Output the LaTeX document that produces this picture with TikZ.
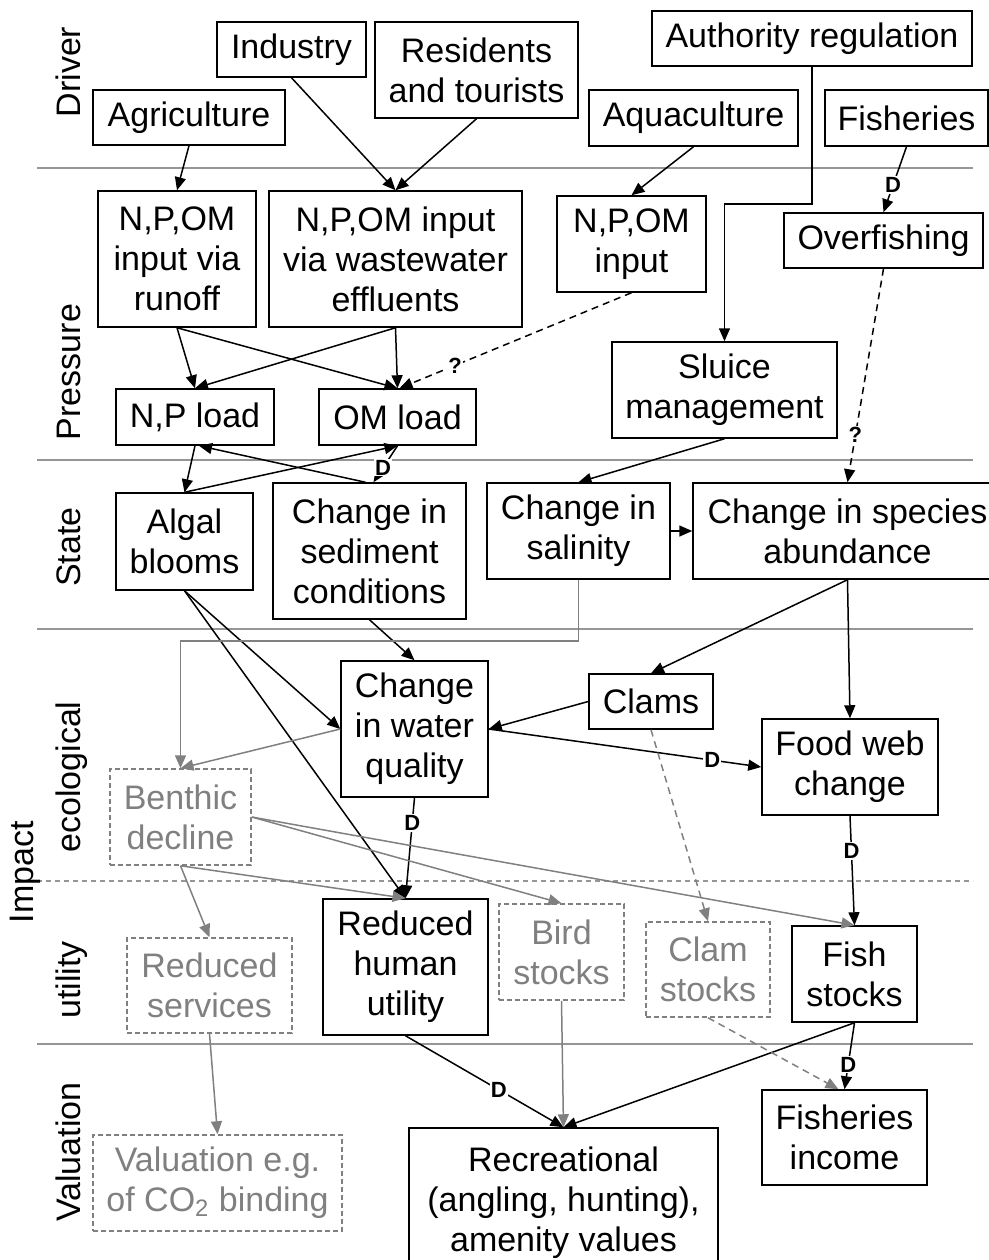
\documentclass[tikz,border=0pt]{standalone}
\usepackage{fontspec}
\setmainfont{Liberation Sans}
\usetikzlibrary{arrows.meta}
\definecolor{faded}{RGB}{128,128,128}
\definecolor{lanegray}{RGB}{150,150,150}

\begin{document}
\begin{tikzpicture}[x=0.5pt, y=-0.5pt,
    every node/.style={font=\fontsize{17}{20}\selectfont},
    wh/.style 2 args={minimum width=#1pt, minimum height=#2pt},
    box/.style={draw, line width=0.75pt, inner sep=0pt, align=center},
    ghost/.style={box, draw=faded, text=faded, dash pattern=on 2.5pt off 1.5pt},
    lane/.style={rotate=90, anchor=base, inner sep=0pt},
    sepline/.style={draw=lanegray, line width=0.7pt},
    arr/.style={line width=0.75pt, -{Triangle[length=6.5pt,width=5.5pt]}},
    fadedarr/.style={arr, draw=faded},
    dashline/.style={dash pattern=on 3.5pt off 2.5pt},
    dlab/.style={fill=white, inner sep=0.6pt, font=\bfseries\fontsize{11}{11}\selectfont}]
    \useasboundingbox (0,0) rectangle (989,1260);

    % lanes
    \foreach \y in {168,460,629,1044}
      \draw[sepline] (37,\y) -- (973,\y);
    \draw[sepline, dash pattern=on 2.5pt off 2pt] (37,881) -- (973,881);
    \node[lane] at (80,72) {Driver};
    \node[lane] at (80,372) {Pressure};
    \node[lane] at (80,547) {State};
    \node[lane] at (80,777) {ecological};
    \node[lane] at (33,872) {Impact};
    \node[lane] at (80,980) {utility};
    \node[lane] at (80,1152) {Valuation};

    % Driver
    \node[box, wh={74.5}{27.5}] (industry) at (291.5,49.5) {Industry};
    \node[box, wh={101.5}{48}] (residents) at (476.5,70) {Residents\\and tourists};
    \node[box, wh={96}{27.5}] (agri) at (189,117.5) {Agriculture};
    \node[box, wh={160}{27.5}] (authority) at (812,38.5) {Authority regulation};
    \node[box, wh={104.5}{28}] (aqua) at (693.5,118) {Aquaculture};
    \node[box, wh={81.5}{28}] (fisheries) at (906.5,118) {Fisheries};

    % Pressure
    \node[box, wh={79}{68}] (runoff) at (177,259) {N,P,OM\\input via\\runoff};
    \node[box, wh={126.5}{68}] (waste) at (395.5,259) {N,P,OM input\\via wastewater\\effluents};
    \node[box, wh={74.5}{48}] (npominput) at (631.5,244) {N,P,OM\\input};
    \node[box, wh={99.5}{27.5}] (overfish) at (883.5,240.5) {Overfishing};
    \node[box, wh={112.5}{48}] (sluice) at (724.5,390) {Sluice\\management};
    \node[box, wh={79}{28}] (npload) at (195,417) {N,P load};
    \node[box, wh={78.5}{28}] (omload) at (397.5,417) {OM load};

    % State
    \node[box, wh={68.5}{48.5}] (algal) at (184.5,541.5) {Algal\\blooms};
    \node[box, wh={96.5}{68}] (sediment) at (369.5,551) {Change in\\sediment\\conditions};
    \node[box, wh={91.5}{48}] (salinity) at (578.5,531) {Change in\\salinity};
    \node[box, wh={154.5}{48}] (species) at (847.5,531) {Change in species\\abundance};

    % Impact: ecological
    \node[box, wh={73.5}{68}] (water) at (414.5,729) {Change\\in water\\quality};
    \node[box, wh={62}{27.5}] (clams) at (651,701.5) {Clams};
    \node[box, wh={88}{48}] (foodweb) at (850,767) {Food web\\change};
    \node[ghost, wh={70.5}{48}] (benthic) at (180.5,817) {Benthic\\decline};

    % Impact: utility
    \node[ghost, wh={82.5}{47.5}] (services) at (209.5,985.5) {Reduced\\services};
    \node[box, wh={82.5}{68}] (human) at (405.5,967) {Reduced\\human\\utility};
    \node[ghost, wh={62.5}{48}] (bird) at (561.5,952) {Bird\\stocks};
    \node[ghost, wh={62}{47.5}] (clamst) at (708,969.5) {Clam\\stocks};
    \node[box, wh={62.5}{48}] (fish) at (854.5,974) {Fish\\stocks};

    % Valuation
    \node[ghost, wh={124.5}{48}] (valuation) at (217.5,1183) {Valuation e.g.\\of CO\textsubscript{2} binding};
    \node[box, wh={154.5}{75}] (recreat) at (563.5,1203) {Recreational\\(angling, hunting),\\amenity values};
    \node[box, wh={82.5}{47.5}] (fishinc) at (844.5,1137.5) {Fisheries\\income};

    % Driver -> Pressure
    \draw[arr] (agri.south) -- (runoff.north);
    \draw[arr] (industry.south) -- (waste.north);
    \draw[arr] (residents.south) -- (waste.north);
    \draw[arr] (aqua.south) -- (npominput.north);
    \draw[arr] (authority.south) -- ++(0,137) -| (sluice.north);
    \draw[arr] (fisheries.south) -- node[dlab, pos=0.58] {D} (overfish.north);

    % Pressure
    \draw[arr] (runoff.south) -- (npload.north);
    \draw[arr] (runoff.south) -- (omload.north);
    \draw[arr] (waste.south) -- (npload.north);
    \draw[arr] (waste.south) -- (omload.north);
    \draw[arr, dashline] (npominput.south) -- node[dlab, pos=0.76] {?} ([xshift=1pt]omload.north);

    % Pressure -> State
    \draw[arr] (npload.south) -- (algal.north);
    \draw[arr] (algal.north) -- (omload.south);
    \draw[arr, {Triangle[length=6.5pt,width=5.5pt]}-] ([xshift=2pt]npload.south) -- ([xshift=-2pt]sediment.north);
    \draw[arr] (omload.south) -- node[dlab, pos=0.6] {D} ([xshift=2pt]sediment.north);
    \draw[arr] (sluice.south) -- (salinity.north);
    \draw[arr, dashline] (overfish.south) -- node[dlab, pos=0.78] {?} (species.north);

    % State
    \draw[arr] (salinity.east) -- (species.west);
    \draw[arr] (sediment.south) -- (water.north);
    \draw[arr] (algal.south) -- (water.west);
    \draw[arr] (algal.south) -- (human.north);
    \draw[fadedarr] (salinity.south) -- ++(0,61) -| (benthic.north);
    \draw[arr] (species.south) -- (clams.north);
    \draw[arr] (species.south) -- (foodweb.north);

    % ecological
    \draw[arr] (clams.west) -- (water.east);
    \draw[arr] (water.east) -- node[dlab, pos=0.82] {D} (foodweb.west);
    \draw[fadedarr] (water.west) -- (benthic.north);
    \draw[fadedarr, dashline] (clams.south) -- (clamst.north);

    % ecological -> utility
    \draw[arr] (water.south) -- node[dlab, pos=0.25] {D} (human.north);
    \draw[arr] (foodweb.south) -- node[dlab, pos=0.32] {D} (fish.north);
    \draw[fadedarr] (benthic.east) -- (bird.north);
    \draw[fadedarr] (benthic.east) -- (fish.north);
    \draw[fadedarr] (benthic.south) -- (human.north);
    \draw[fadedarr] (benthic.south) -- (services.north);

    % utility -> Valuation
    \draw[fadedarr] (services.south) -- (valuation.north);
    \draw[arr] (human.south) -- node[dlab, pos=0.59] {D} (recreat.north);
    \draw[fadedarr] (bird.south) -- (recreat.north);
    \draw[arr] (fish.south) -- (recreat.north);
    \draw[arr] (fish.south) -- node[dlab, pos=0.63] {D} (fishinc.north);
    \draw[fadedarr, dashline] (clamst.south) -- ([xshift=-3pt]fishinc.north);
\end{tikzpicture}
\end{document}
